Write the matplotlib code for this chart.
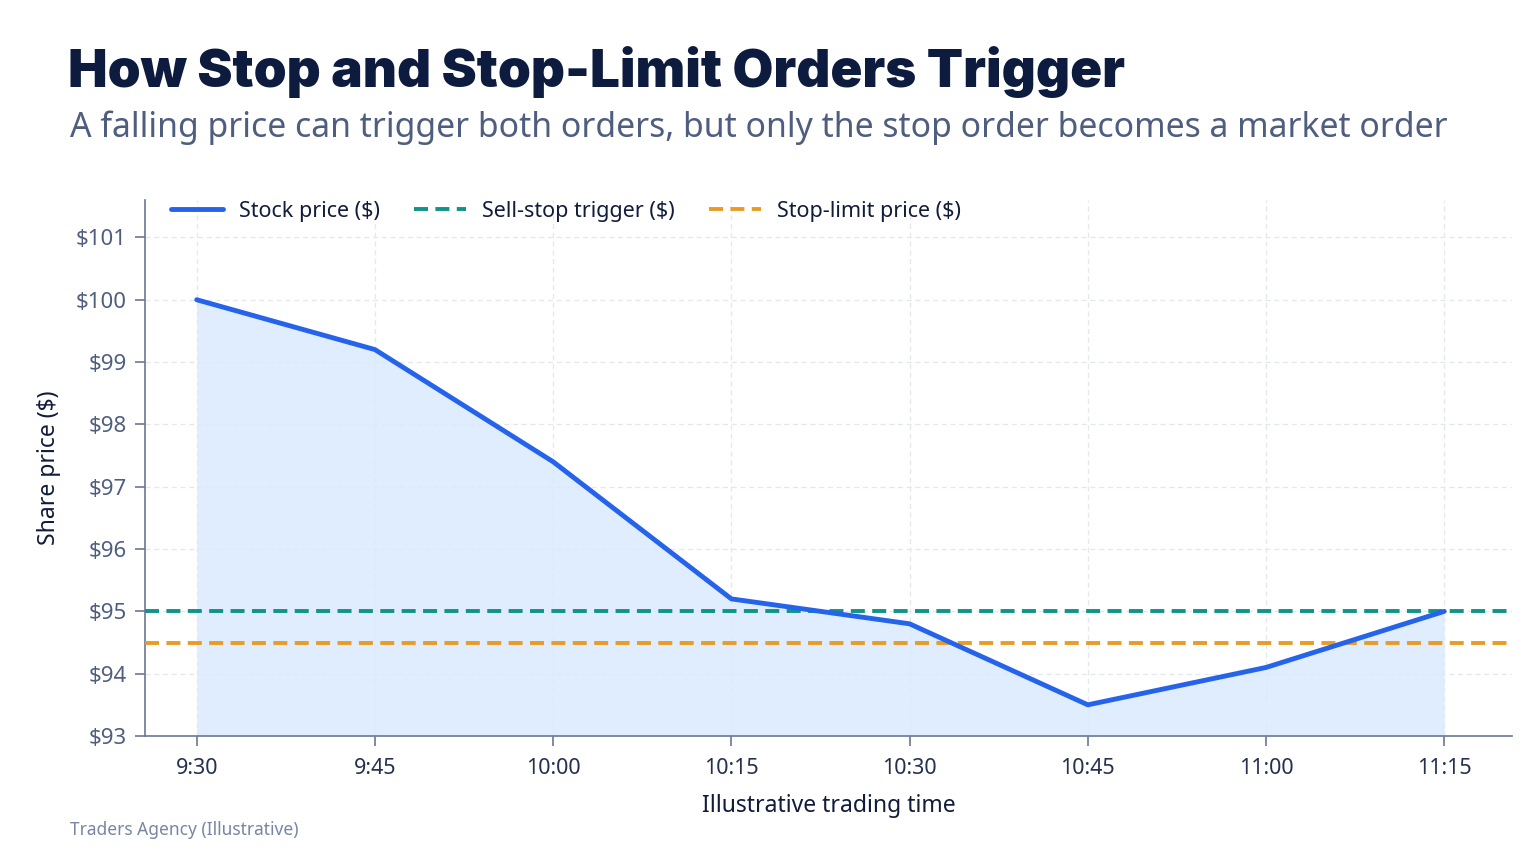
import matplotlib
matplotlib.use("Agg")
import matplotlib.pyplot as plt

times = ["9:30", "9:45", "10:00", "10:15", "10:30", "10:45", "11:00", "11:15"]
price = [100.0, 99.2, 97.4, 95.2, 94.8, 93.5, 94.1, 95.0]
stop_trigger = 95.0
stop_limit = 94.5
yticks = [93, 94, 95, 96, 97, 98, 99, 100, 101]

plt.rcParams['font.family'] = ['Noto Sans', 'DejaVu Sans']

fig = plt.figure(figsize=(15.36, 8.64), dpi=100)
fig.patch.set_facecolor("white")
ax = fig.add_axes([145/1536, 1-736/864, (1512-145)/1536, (736-200)/864])

x = list(range(len(times)))
ax.fill_between(x, price, 93, color="#dbeafe", alpha=0.85, zorder=1, linewidth=0)
ax.plot(x, price, color="#2563eb", linewidth=3.5, label="Stock price ($)", zorder=4, solid_capstyle="round")
ax.axhline(stop_trigger, color="#0f9488", linewidth=2.8, dashes=(3.6, 1.9), label="Sell-stop trigger ($)", zorder=3)
ax.axhline(stop_limit, color="#e89c26", linewidth=2.8, dashes=(3.6, 1.9), label="Stop-limit price ($)", zorder=3)

ax.set_xlim(-0.29, 7.38)
ax.set_ylim(93, 101.6)
ax.set_xticks(x)
ax.set_xticklabels(times)
ax.set_yticks(yticks)
ax.set_yticklabels([f"${v}" for v in yticks])

ax.grid(True, color="#e3e7ee", linestyle=(0, (4, 3)), linewidth=0.9, zorder=0)
ax.set_axisbelow(True)
for s in ["top", "right"]:
    ax.spines[s].set_visible(False)
for s in ["left", "bottom"]:
    ax.spines[s].set_color("#6b7894")
    ax.spines[s].set_linewidth(1.2)
ax.tick_params(axis="both", colors="#6b7894", length=7, width=1.2)
ax.tick_params(axis="y", labelcolor="#4f5e7e", labelsize=16, pad=6)
ax.tick_params(axis="x", labelcolor="#24304d", labelsize=15.5, pad=9)

ax.set_xlabel("Illustrative trading time", fontsize=16.5, color="#111c3a", labelpad=11)
ax.set_ylabel("Share price ($)", fontsize=16.5, color="#111c3a", labelpad=11)

leg = ax.legend(loc="upper left", ncol=3, frameon=False, fontsize=15.5,
                bbox_to_anchor=(0.005, 1.035), handlelength=2.4, columnspacing=1.6,
                handletextpad=0.75, labelcolor="#111c3a")

fig.text(68/1536, 1-72/864, "How Stop and Stop-Limit Orders Trigger", fontsize=38,
         fontweight="black", family=["Inter", "DejaVu Sans"], color="#0d1b3e", va="center")
fig.text(70/1536, 1-128/864,
         "A falling price can trigger both orders, but only the stop order becomes a market order",
         fontsize=24.3, color="#4f5e7e", va="center")
fig.text(70/1536, 1-830/864, "Traders Agency (Illustrative)", fontsize=12.5, color="#7886a3", va="center")

fig.savefig("out.png", dpi=100, facecolor="white")
